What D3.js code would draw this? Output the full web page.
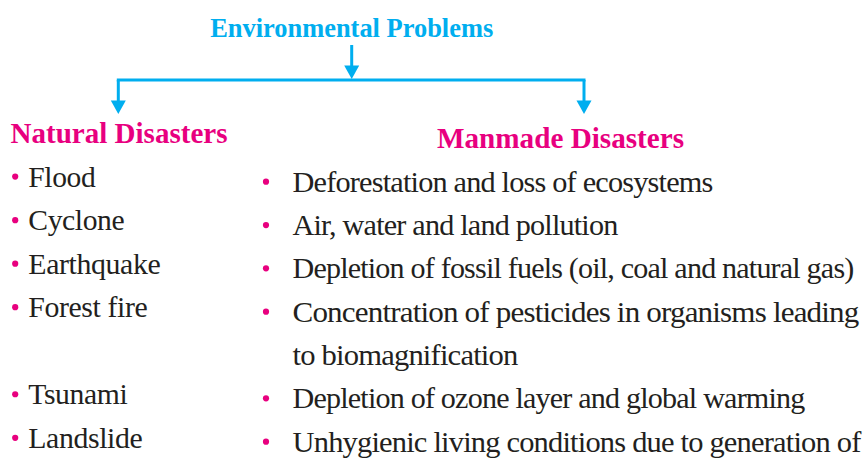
<!DOCTYPE html>
<html>
<head>
<meta charset="utf-8">
<script src="https://cdn.jsdelivr.net/npm/d3@7"></script>
<style>
  html, body { margin: 0; padding: 0; background: #ffffff; }
  svg { display: block; }
  text { font-family: "Liberation Serif", "Times New Roman", Times, "DejaVu Serif", serif; }
</style>
</head>
<body>
<svg id="chart" width="865" height="459"></svg>
<script>
// ---- content ----
const title = "Environmental Problems";
const branchLabels = ["Natural Disasters", "Manmade Disasters"];
const naturalItems = ["Flood", "Cyclone", "Earthquake", "Forest fire", "", "Tsunami", "Landslide"];
const manmadeItems = [
  "Deforestation and loss of ecosystems",
  "Air, water and land pollution",
  "Depletion of fossil fuels (oil, coal and natural gas)",
  "Concentration of pesticides in organisms leading",
  "to biomagnification",
  "Depletion of ozone layer and global warming",
  "Unhygienic living conditions due to generation of"
];
const manmadeBulleted = [true, true, true, true, false, true, true];

// ---- layout (fitted text widths, px) ----
const naturalWidths = [67, 96, 132, 119, 0, 99, 114];
const manmadeWidths = [420, 325, 561, 566, 225, 512, 568];

// ---- styles ----
const CYAN = "#00AEEF", MAGENTA = "#E8007F", INK = "#231F20";

const svg = d3.select("#chart");

// row scales
const rowsR = d3.scaleLinear().domain([0, 6]).range([191.7, 451.7]);
const rowsL = d3.scaleLinear().domain([0, 6]).range([186.8, 448]);
// branch x positions
const branchX = d3.scalePoint().domain(branchLabels).range([118.3, 584]);

// ---- title ----
svg.append("text")
  .attr("x", 351.7).attr("y", 36.5)
  .attr("text-anchor", "middle")
  .attr("font-weight", "bold")
  .attr("font-size", 26.5).attr("fill", CYAN)
  .attr("textLength", 283).attr("lengthAdjust", "spacingAndGlyphs")
  .text(title);

// ---- connectors ----
const g = svg.append("g").attr("stroke", CYAN).attr("stroke-width", 3).attr("fill", "none");
function arrowDown(x, y0, tipY) {
  g.append("line").attr("x1", x).attr("x2", x).attr("y1", y0).attr("y2", tipY - 12);
  svg.append("path")
    .attr("d", d3.line()([[x - 7.5, tipY - 13.5], [x + 7.5, tipY - 13.5], [x, tipY]]) + "Z")
    .attr("fill", CYAN);
}
arrowDown(351.7, 45, 79);
g.append("line").attr("x1", branchX(branchLabels[0]) - 1.5).attr("x2", branchX(branchLabels[1]) + 1.5)
  .attr("y1", 80).attr("y2", 80);
branchLabels.forEach(b => arrowDown(branchX(b), 80, 114));

// ---- headings ----
svg.append("text")
  .attr("x", 10.5).attr("y", 143)
  .attr("font-weight", "bold")
  .attr("font-size", 29).attr("fill", MAGENTA)
  .attr("textLength", 217).attr("lengthAdjust", "spacingAndGlyphs")
  .text(branchLabels[0]);
svg.append("text")
  .attr("x", 437).attr("y", 147.5)
  .attr("font-weight", "bold")
  .attr("font-size", 29).attr("fill", MAGENTA)
  .attr("textLength", 247).attr("lengthAdjust", "spacingAndGlyphs")
  .text(branchLabels[1]);

// ---- natural list ----
const nat = svg.append("g");
naturalItems.forEach((t, i) => {
  if (!t) return;
  nat.append("circle").attr("cx", 15.2).attr("cy", rowsL(i) - 10.2).attr("r", 3.1).attr("fill", MAGENTA);
  nat.append("text").attr("x", 28.3).attr("y", rowsL(i))
    .attr("font-size", 30).attr("fill", INK)
    .attr("letter-spacing", -0.4)
    .attr("textLength", naturalWidths[i]).attr("lengthAdjust", "spacingAndGlyphs")
    .text(t);
});

// ---- manmade list ----
const man = svg.append("g");
manmadeItems.forEach((t, i) => {
  if (manmadeBulleted[i]) {
    man.append("circle").attr("cx", 266).attr("cy", rowsR(i) - 10).attr("r", 3.1).attr("fill", MAGENTA);
  }
  man.append("text").attr("x", 292.5).attr("y", rowsR(i))
    .attr("font-size", 30).attr("fill", INK)
    .attr("letter-spacing", -0.8)
    .attr("textLength", manmadeWidths[i]).attr("lengthAdjust", "spacingAndGlyphs")
    .text(t);
});
</script>
</body>
</html>
